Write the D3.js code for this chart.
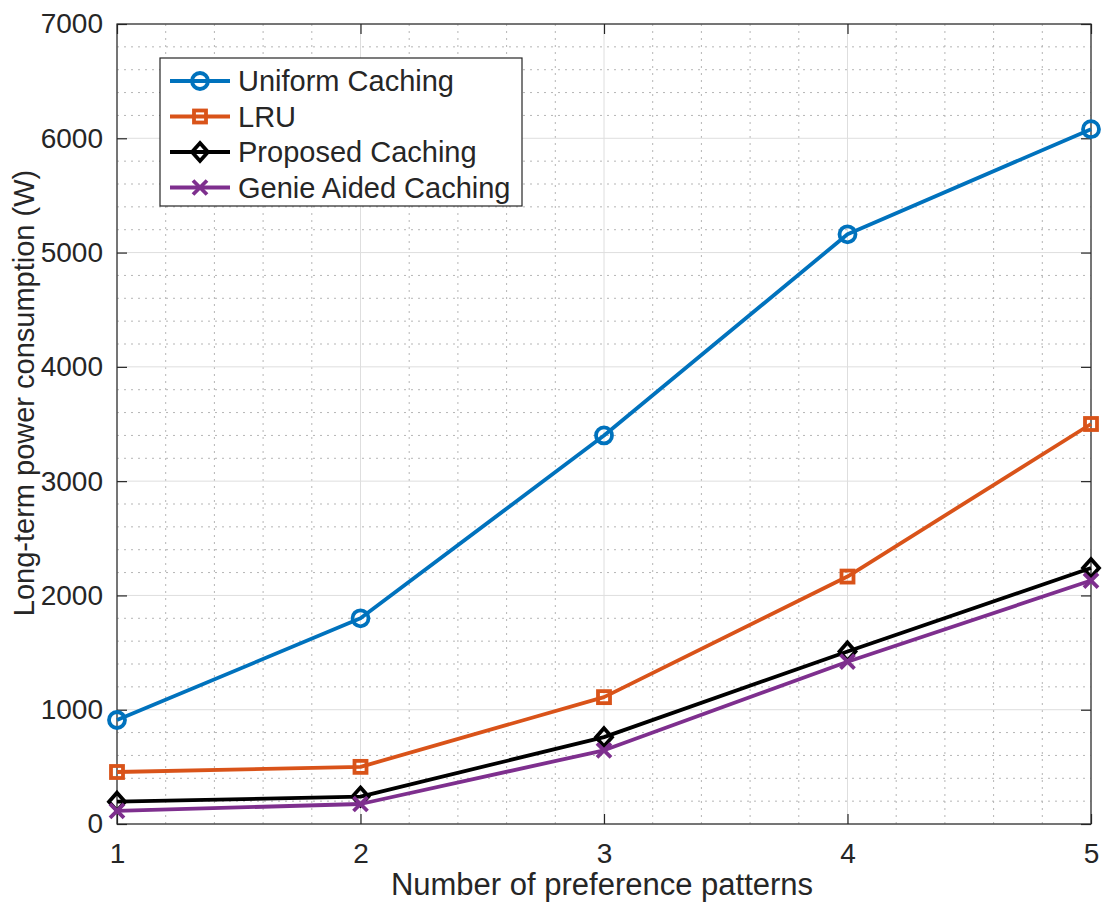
<!DOCTYPE html>
<html>
<head>
<meta charset="utf-8">
<script src="https://cdn.jsdelivr.net/npm/d3@7"></script>
<style>
  body { margin: 0; background: #fff; }
  text { font-family: "Liberation Sans", Arial, sans-serif; fill: #262626; }
</style>
</head>
<body>
<div id="chart"></div>
<script>
// data
const patterns = [1, 2, 3, 4, 5];
const uniformCaching = [910, 1800, 3400, 5160, 6080];
const lruCaching = [455, 500, 1110, 2165, 3500];
const proposedCaching = [195, 240, 760, 1510, 2240];
const genieCaching = [115, 175, 645, 1420, 2130];
const yTicks = [0, 1000, 2000, 3000, 4000, 5000, 6000, 7000];

const series = [
    {name: 'Uniform Caching', values: uniformCaching, color: '#0072BD', marker: 'circle'},
    {name: 'LRU', values: lruCaching, color: '#D95319', marker: 'square'},
    {name: 'Proposed Caching', values: proposedCaching, color: '#000000', marker: 'diamond'},
    {name: 'Genie Aided Caching', values: genieCaching, color: '#7E2F8E', marker: 'cross'}
];

const W = 1106, H = 903;
const margin = {top: 24, right: 15, bottom: 79, left: 117};
const width = W - margin.left - margin.right;
const height = H - margin.top - margin.bottom;

const svg = d3.select('#chart').append('svg').attr('width', W).attr('height', H);
const g = svg.append('g').attr('transform', 'translate(' + margin.left + ',' + margin.top + ')');

const x = d3.scaleLinear().domain([1, 5]).range([0, width]);
const y = d3.scaleLinear().domain([0, 7000]).range([height, 0]);

// minor grid (dotted)
const xMinor = d3.range(1, 5.001, 0.2).filter(v => Math.abs(v - Math.round(v)) > 0.01);
const yMinor = d3.range(0, 7001, 200).filter(v => v % 1000 !== 0);
g.append('g').selectAll('line').data(xMinor).join('line')
    .attr('x1', d => x(d)).attr('x2', d => x(d)).attr('y1', 0).attr('y2', height)
    .attr('stroke', '#b5b5b5').attr('stroke-width', 1).attr('stroke-dasharray', '2,5');
g.append('g').selectAll('line').data(yMinor).join('line')
    .attr('y1', d => y(d)).attr('y2', d => y(d)).attr('x1', 0).attr('x2', width)
    .attr('stroke', '#b5b5b5').attr('stroke-width', 1).attr('stroke-dasharray', '2,5');

// major grid
g.append('g').selectAll('line').data(patterns).join('line')
    .attr('x1', d => x(d)).attr('x2', d => x(d)).attr('y1', 0).attr('y2', height)
    .attr('stroke', '#dedede').attr('stroke-width', 1);
g.append('g').selectAll('line').data(yTicks).join('line')
    .attr('y1', d => y(d)).attr('y2', d => y(d)).attr('x1', 0).attr('x2', width)
    .attr('stroke', '#dedede').attr('stroke-width', 1);

// axes (box with inward ticks on all sides)
const axisColor = '#262626';
function styleAxis(sel) {
    sel.select('.domain').remove();
    sel.selectAll('.tick line').attr('stroke', axisColor).attr('stroke-width', 1.2);
    sel.selectAll('.tick text').style('font-size', '28px').attr('fill', axisColor);
}
g.append('g').attr('transform', 'translate(0,' + height + ')')
    .call(d3.axisBottom(x).tickValues(patterns).tickFormat(d3.format('d')).tickSizeInner(-10).tickPadding(19))
    .call(styleAxis);
g.append('g')
    .call(d3.axisLeft(y).tickValues(yTicks).tickFormat(d3.format('d')).tickSizeInner(-10).tickPadding(14))
    .call(styleAxis);
g.append('g')
    .call(d3.axisTop(x).tickValues(patterns).tickFormat('').tickSizeInner(-10))
    .call(styleAxis);
g.append('g').attr('transform', 'translate(' + width + ',0)')
    .call(d3.axisRight(y).tickValues(yTicks).tickFormat('').tickSizeInner(-10))
    .call(styleAxis);
g.append('rect').attr('width', width).attr('height', height)
    .attr('fill', 'none').attr('stroke', axisColor).attr('stroke-width', 1.2);

// markers
function drawMarker(sel, type, color) {
    if (type === 'circle') {
        sel.append('circle').attr('r', 8).attr('fill', 'none').attr('stroke', color).attr('stroke-width', 3.8);
    } else if (type === 'square') {
        sel.append('rect').attr('x', -6).attr('y', -6).attr('width', 12).attr('height', 12)
            .attr('fill', 'none').attr('stroke', color).attr('stroke-width', 3.8);
    } else if (type === 'diamond') {
        sel.append('path').attr('d', 'M0,-9L8,0L0,9L-8,0Z')
            .attr('fill', 'none').attr('stroke', color).attr('stroke-width', 3.8);
    } else {
        sel.append('path').attr('d', 'M-7,-7L7,7M-7,7L7,-7')
            .attr('fill', 'none').attr('stroke', color).attr('stroke-width', 3.8);
    }
}

const line = d3.line().x((d, i) => x(patterns[i])).y(d => y(d));

series.forEach(s => {
    g.append('path').datum(s.values).attr('d', line)
        .attr('fill', 'none').attr('stroke', s.color).attr('stroke-width', 3.8)
        .attr('stroke-linejoin', 'round');
    s.values.forEach((v, i) => {
        const m = g.append('g').attr('transform', 'translate(' + x(patterns[i]) + ',' + y(v) + ')');
        drawMarker(m, s.marker, s.color);
    });
});

// legend
const legend = svg.append('g').attr('transform', 'translate(160,58)');
legend.append('rect').attr('width', 362).attr('height', 148)
    .attr('fill', '#fff').attr('stroke', axisColor).attr('stroke-width', 1.2);
series.forEach((s, i) => {
    const row = legend.append('g').attr('transform', 'translate(0,' + (23 + i * 35.5) + ')');
    row.append('line').attr('x1', 10).attr('x2', 70).attr('y1', 0).attr('y2', 0)
        .attr('stroke', s.color).attr('stroke-width', 3.8);
    const m = row.append('g').attr('transform', 'translate(40,0)');
    drawMarker(m, s.marker, s.color);
    row.append('text').attr('x', 78).attr('y', 0).attr('dy', '0.35em')
        .style('font-size', '29px').text(s.name);
});

// axis labels
svg.append('text').attr('x', 602).attr('y', 895)
    .attr('text-anchor', 'middle').style('font-size', '31px').text('Number of preference patterns');
svg.append('text').attr('transform', 'translate(34,393) rotate(-90)')
    .attr('text-anchor', 'middle').style('font-size', '29px').text('Long-term power consumption (W)');
</script>
</body>
</html>
